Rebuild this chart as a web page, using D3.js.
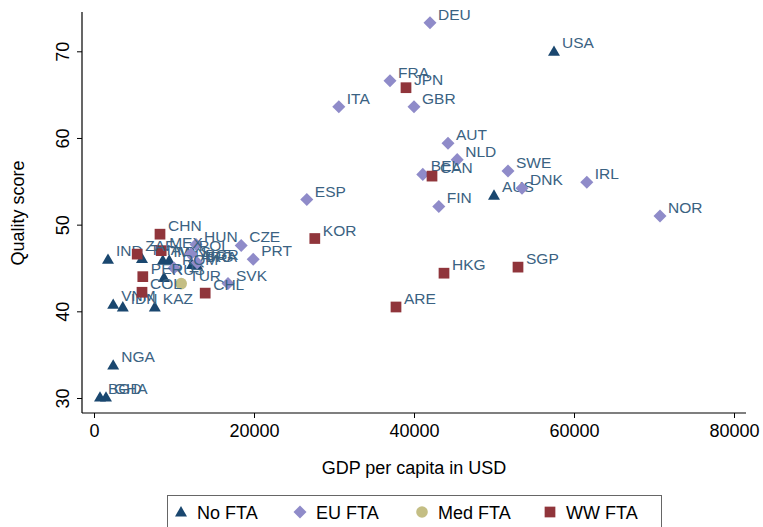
<!DOCTYPE html>
<html><head><meta charset="utf-8">
<script src="https://cdn.jsdelivr.net/npm/d3@7"></script>
<style>body{margin:0;background:#fff}svg{display:block;font-family:"Liberation Sans",Arial,sans-serif}</style>
</head><body><svg id="c" width="763" height="527"></svg>
<script>
const xTicks = [0, 20000, 40000, 60000, 80000];
const yTicks = [30, 40, 50, 60, 70];
const seriesNames = ["No FTA", "EU FTA", "Med FTA", "WW FTA"];

const noFtaLabels = ["USA","AUS","IND","THA","TWN","MYS","ARG","BRA","RUS","VNM","IDN","KAZ","NGA","BGD","GHA"];
const noFtaGdp    = [57500,50000,1750,6000,8600,9400,12250,12900,8750,2400,3600,7600,2400,750,1500];
const noFtaQual   = [70.0,53.4,46.0,46.1,45.9,45.9,45.4,45.3,43.9,40.8,40.5,40.5,33.8,30.1,30.1];

const euLabels = ["DEU","FRA","ITA","GBR","AUT","NLD","BEL","SWE","DNK","FIN","IRL","NOR","ESP","CZE","PRT","SVK","HUN","POL","BGR","ROM"];
const euGdp    = [42000,37000,30600,40000,44250,45400,41100,51750,53500,43100,61600,70750,26600,18400,19900,16750,12750,12100,12900,10000];
const euQual   = [73.3,66.6,63.6,63.6,59.4,57.5,55.8,56.2,54.2,52.1,54.9,51.0,52.9,47.6,46.0,43.2,47.7,46.6,45.6,45.0];

const medLabels = ["TUR"];
const medGdp    = [10900];
const medQual   = [43.2];

const wwLabels = ["CHN","KOR","JPN","CAN","HKG","SGP","ARE","CHL","ZAF","MEX","PER","COL"];
const wwGdp    = [8250,27600,39000,42250,43750,53000,37750,13900,5400,8400,6100,6000];
const wwQual   = [48.9,48.4,65.8,55.6,44.4,45.1,40.5,42.1,46.6,47.0,44.0,42.2];

const colors = ["#1a476f", "#8f8bc9", "#c4be84", "#90353b"];
const labelColor = "#3a6282";

const svg = d3.select("#c");
const x = d3.scaleLinear().domain([0, 80000]).range([94, 734]);
const y = d3.scaleLinear().domain([30, 70]).range([398, 51.3]);
const plotL = 82, plotR = 746, plotT = 12, plotB = 413;

// axes lines
svg.append("line").attr("x1", plotL).attr("x2", plotL).attr("y1", plotT).attr("y2", plotB).attr("stroke", "#000").attr("stroke-width", 1.2);
svg.append("line").attr("x1", plotL).attr("x2", plotR).attr("y1", plotB).attr("y2", plotB).attr("stroke", "#000").attr("stroke-width", 1.2);

// y ticks
const yAxis = d3.axisLeft(y).tickValues(yTicks).tickSize(5).tickFormat(d3.format("d"));
const gy = svg.append("g").attr("transform", `translate(${plotL},0)`).call(yAxis);
gy.select(".domain").remove();
gy.selectAll(".tick line").attr("stroke", "#000");
gy.selectAll(".tick text").attr("font-size", 18).attr("fill", "#000")
  .attr("transform", "rotate(-90)").attr("x", 0).attr("y", -14).attr("dy", 0)
  .attr("text-anchor", "middle").attr("dominant-baseline", "auto");
// rotate each tick label around its own position
gy.selectAll(".tick text").each(function(){ d3.select(this).attr("transform", "translate(-13,0) rotate(-90)").attr("x",0).attr("y",0); });

// x ticks
const xAxis = d3.axisBottom(x).tickValues(xTicks).tickSize(5).tickFormat(d3.format("d"));
const gx = svg.append("g").attr("transform", `translate(0,${plotB})`).call(xAxis);
gx.select(".domain").remove();
gx.selectAll(".tick line").attr("stroke", "#000");
gx.selectAll(".tick text").attr("font-size", 18).attr("fill", "#000").attr("y", 11).attr("dy", "0.71em");

// titles
svg.append("text").attr("x", 414).attr("y", 474).attr("text-anchor", "middle").attr("font-size", 18).text("GDP per capita in USD");
svg.append("text").attr("transform", "translate(24,213) rotate(-90)").attr("text-anchor", "middle").attr("font-size", 18).text("Quality score");

const sym = [d3.symbolTriangle, null, d3.symbolCircle, d3.symbolSquare];
function marker(g, i) {
  if (i === 0) g.append("path").attr("d", d3.symbol().type(d3.symbolTriangle).size(62)()).attr("transform","translate(0,1)");
  else if (i === 1) g.append("path").attr("d", d3.symbol().type(d3.symbolSquare).size(85)()).attr("transform","rotate(45)");
  else if (i === 2) g.append("circle").attr("r", 5.8);
  else g.append("path").attr("d", d3.symbol().type(d3.symbolSquare).size(115)());
}

const series = [
  [noFtaLabels, noFtaGdp, noFtaQual],
  [euLabels, euGdp, euQual],
  [medLabels, medGdp, medQual],
  [wwLabels, wwGdp, wwQual]
];
series.forEach((s, i) => {
  const data = s[0].map((l, k) => ({l, g: s[1][k], q: s[2][k]}));
  const g = svg.append("g");
  data.forEach(d => {
    const m = g.append("g").attr("transform", `translate(${x(d.g)},${y(d.q)})`).attr("fill", colors[i]);
    marker(m, i);
  });
  data.forEach(d => {
    g.append("text").attr("x", x(d.g) + 8).attr("y", y(d.q) - 3).attr("font-size", 15.5)
      .attr("fill", labelColor).text(d.l);
  });
});

// legend
const leg = svg.append("g");
leg.append("rect").attr("x", 167.5).attr("y", 495.5).attr("width", 494).attr("height", 45).attr("fill", "#fff").attr("stroke", "#666").attr("stroke-width", 1);
const legX = [181, 300, 422, 550];
seriesNames.forEach((n, i) => {
  const m = leg.append("g").attr("transform", `translate(${legX[i]},${512})`).attr("fill", colors[i]);
  marker(m, i);
  leg.append("text").attr("x", legX[i] + 16).attr("y", 519).attr("font-size", 18).text(n);
});
</script></body></html>
